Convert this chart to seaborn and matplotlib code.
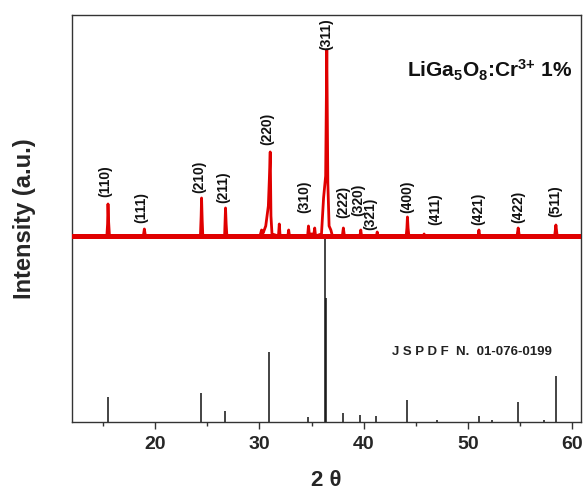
import matplotlib
matplotlib.use("Agg")
import matplotlib.pyplot as plt
import seaborn as sns
import pandas as pd
from matplotlib.ticker import MultipleLocator

# ---- data (a.u.) ----
red_2theta = [12.0, 15.35, 15.42, 15.46, 15.52, 15.6, 18.85, 18.95, 19.05,
              24.33, 24.4, 24.44, 24.5, 24.56, 26.65, 26.74, 26.8, 26.87,
              30.05, 30.2, 30.35, 30.6, 30.85, 30.95, 31.03, 31.1, 31.2,
              31.82, 31.9, 31.98, 32.72, 32.8, 32.88, 34.62, 34.7, 34.78,
              35.22, 35.3, 35.38, 35.95, 36.15, 36.35, 36.46, 36.56, 36.68,
              36.85, 37.0, 37.95, 38.05, 38.15, 39.64, 39.72, 39.8, 41.22,
              41.3, 41.38, 44.08, 44.15, 44.2, 44.26, 44.34, 45.74, 45.8,
              45.86, 50.98, 51.06, 51.14, 54.72, 54.83, 54.94, 58.33, 58.45,
              58.57, 60.9]
red_intensity = [0, 0, 12, 32, 14, 0, 0, 7, 0,
                 0, 20, 38, 16, 0, 0, 28, 12, 0,
                 0, 6, 3, 10, 30, 58, 84, 20, 2,
                 0, 12, 0, 0, 6, 0, 0, 10, 2,
                 2, 8, 0, 2, 38, 60, 186, 53, 10,
                 6, 0, 0, 8, 0, 0, 6, 0, 0,
                 4, 0, 0, 8, 19, 8, 0, 0, 2,
                 0, 0, 6, 0, 0, 8, 0, 0, 11,
                 0, 0]
assert len(red_2theta) == len(red_intensity)

ref_2theta = [15.43, 24.41, 26.68, 30.93, 34.64, 36.28, 36.36, 38.0, 39.65,
              41.2, 44.19, 47.0, 51.06, 52.3, 54.8, 57.27, 58.48]
ref_height = [25, 29, 11, 70, 5, 186, 124, 9, 7,
              6, 22, 2, 6, 2, 20, 2, 46]

hkl_labels = ["(110)", "(111)", "(210)", "(211)", "(220)", "(310)", "(311)",
              "(222)", "(320)", "(321)", "(400)", "(411)", "(421)", "(422)", "(511)"]
hkl_2theta = [15.17, 18.65, 24.19, 26.5, 30.73, 34.29, 36.38,
              38.04, 39.45, 40.65, 44.19, 46.86, 51.02, 54.87, 58.39]
hkl_label_base = [225, 199, 229, 219, 277, 209, 372,
                  204, 206, 192, 209, 197, 197, 199, 205]

red_offset = 186
sample_label = r"LiGa$_{5}$O$_{8}$:Cr$^{3{+}}$ 1%"
ref_label = "J S P D F  N.  01-076-0199"

# ---- style ----
sns.set_theme(style="white")
plt.rcParams["font.family"] = ["Liberation Sans", "DejaVu Sans"]
plt.rcParams["font.weight"] = "bold"
plt.rcParams["mathtext.fontset"] = "custom"
plt.rcParams["mathtext.rm"] = "Liberation Sans:bold"
plt.rcParams["mathtext.bf"] = "Liberation Sans:bold"
plt.rcParams["mathtext.it"] = "Liberation Sans:bold"
plt.rcParams["mathtext.default"] = "rm"

fig = plt.figure(figsize=(5.85, 4.96), dpi=100)
ax = fig.add_axes([0.123, 0.149, 0.870, 0.821])

# reference sticks
ax.vlines(ref_2theta, 0, ref_height, color="#111111", linewidth=1.1, zorder=2)

# measured pattern (offset)
df = pd.DataFrame({"two_theta": red_2theta,
                   "intensity": [v + red_offset for v in red_intensity]})
ax.axhline(red_offset, color="#e00000", linewidth=3.6, zorder=3)
sns.lineplot(data=df, x="two_theta", y="intensity", ax=ax, color="#e00000",
             linewidth=2.0, sort=False, estimator=None, zorder=3)

for lab, xx, yy in zip(hkl_labels, hkl_2theta, hkl_label_base):
    ax.text(xx, yy, lab, rotation=90, ha="center", va="bottom",
            fontsize=10, fontweight="bold", color="#111111", clip_on=False)

ax.text(60.0, 352, sample_label, ha="right", va="center", fontsize=15,
        color="#111111")
ax.text(50.38, 70, ref_label, ha="center", va="center", fontsize=9.5,
        fontweight="bold", color="#222222")

ax.set_xlim(12.0, 60.85)
ax.set_ylim(0, 407)
ax.set_yticks([])
ax.xaxis.set_major_locator(MultipleLocator(10))
ax.xaxis.set_minor_locator(MultipleLocator(5))
ax.tick_params(axis="x", which="major", direction="out", length=5, width=1,
               color="#333333", labelsize=14, pad=5, bottom=True)
ax.tick_params(axis="x", which="minor", direction="out", length=3, width=1,
               color="#333333", bottom=True)
for lbl in ax.get_xticklabels():
    lbl.set_fontweight("bold")
for s in ax.spines.values():
    s.set_color("#333333")
    s.set_linewidth(1.0)

ax.set_xlabel("2 θ", fontsize=16, fontweight="bold", labelpad=12)
ax.set_ylabel("Intensity (a.u.)", fontsize=17, fontweight="bold", labelpad=26)

fig.savefig("out.png", dpi=100)
